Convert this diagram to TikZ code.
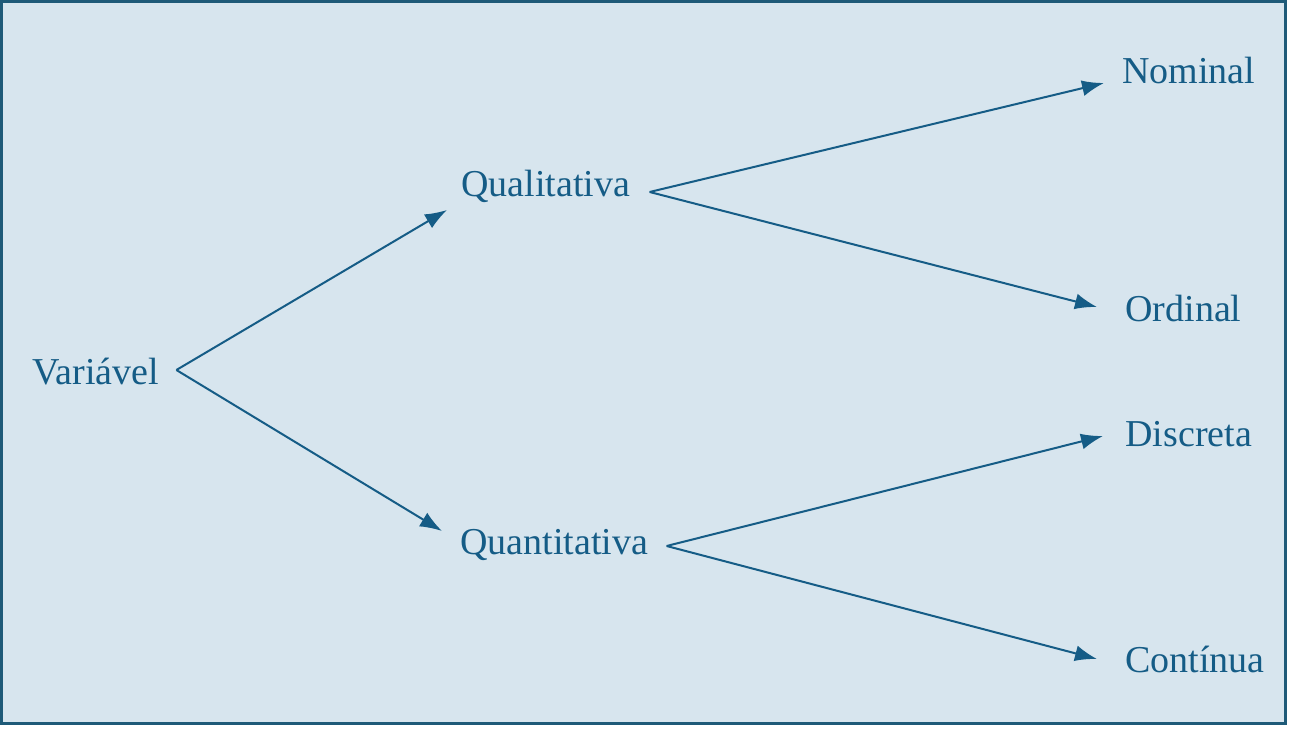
\documentclass[tikz,border=0pt]{standalone}
\usepackage{fontspec}
\setmainfont{Liberation Serif}
\usetikzlibrary{arrows.meta}

\definecolor{frameblue}{HTML}{1E5A78}
\definecolor{fillblue}{HTML}{D7E5EE}
\definecolor{inkblue}{HTML}{155C86}

\tikzset{
  word/.style = {anchor=base west, inner sep=0pt, text=inkblue, font=\fontsize{19}{23}\selectfont},
  branch/.style = {draw=inkblue, line width=1pt, -{Latex[length=11pt,width=8pt]}}
}

\begin{document}
\begin{tikzpicture}[x=0.5pt,y=-0.5pt]
        \useasboundingbox (0,0) rectangle (1293,731);
        \draw[frameblue, fill=fillblue, line width=1.5pt] (1.5,1.5) rectangle (1285,723);

        \node[word] (var) at (32,385) {Variável};
        \node[word] (qual) at (461,197) {Qualitativa};
        \node[word] (quant) at (460,554) {Quantitativa};
        \node[word] (nom) at (1122,84) {Nominal};
        \node[word] (ord) at (1125,322) {Ordinal};
        \node[word] (disc) at (1125,446) {Discreta};
        \node[word] (cont) at (1125,672) {Contínua};

        \coordinate (v) at ([shift={(8.5pt,7.5pt)}]var.base east);
        \coordinate (q1) at ([shift={(9.5pt,2.5pt)}]qual.base east);
        \coordinate (q2) at ([shift={(9pt,4pt)}]quant.base east);

        \draw[branch] (v) -- ([shift={(-7pt,-6.5pt)}]qual.base west);
        \draw[branch] (v) -- ([shift={(-9pt,11.5pt)}]quant.base west);
        \draw[branch] (q1) -- ([shift={(-9pt,0.5pt)}]nom.base west);
        \draw[branch] (q1) -- ([shift={(-14pt,7.5pt)}]ord.base west);
        \draw[branch] (q2) -- ([shift={(-11pt,5pt)}]disc.base west);
        \draw[branch] (q2) -- ([shift={(-14pt,6.5pt)}]cont.base west);
    \end{tikzpicture}
\end{document}
